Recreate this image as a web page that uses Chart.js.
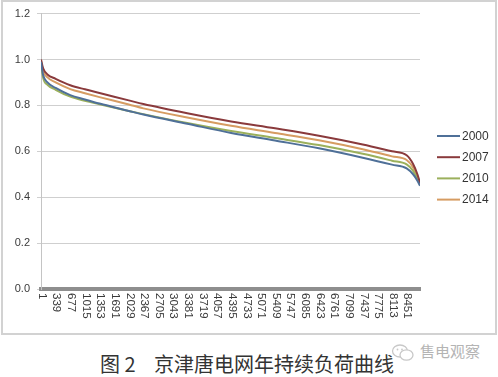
<!DOCTYPE html>
<html>
<head>
<meta charset="utf-8">
<script src="https://cdn.jsdelivr.net/npm/chart.js@4/dist/chart.umd.min.js"></script>
<style>
  html, body { margin: 0; padding: 0; background: #ffffff; }
  body { width: 498px; height: 377px; position: relative; overflow: hidden; }
  #box { position: absolute; left: 1px; top: 0px; width: 496px; height: 335px; box-sizing: border-box; border: 2px solid #d2d2d2; }
  #c { position: absolute; left: 0; top: 0; }
  .cap { position: absolute; top: 352px; font-family: "Noto Sans CJK SC", sans-serif; font-size: 20px; color: #333; line-height: 24px; white-space: nowrap; }
  #wm { position: absolute; left: 420px; top: 342px; font-family: "Noto Sans CJK SC", sans-serif; font-size: 15px; color: #b4b4b4; line-height: 18px; }
  #ico { position: absolute; left: 391px; top: 343px; }
</style>
</head>
<body>
<div id="box"></div>
<canvas id="c" width="498" height="335"></canvas>
<div class="cap" style="left:100px;">图 2</div>
<div class="cap" style="left:154px;">京津唐电网年持续负荷曲线</div>
<svg id="ico" width="24" height="20" viewBox="0 0 24 20">
  <ellipse cx="9" cy="8" rx="7.5" ry="6" fill="none" stroke="#c8c8c8" stroke-width="1.3"/>
  <ellipse cx="15.5" cy="12" rx="6.5" ry="5.2" fill="#fff" stroke="#c8c8c8" stroke-width="1.3"/>
  <circle cx="6.5" cy="6.5" r="0.9" fill="#c8c8c8"/><circle cx="11" cy="6.5" r="0.9" fill="#c8c8c8"/>
</svg>
<div id="wm">售电观察</div>
<script>
// ---- data ----
const hours = [1, 50, 150, 339, 677, 1015, 1353, 2029, 2367, 3381, 4395, 5409, 6423, 7437, 8113, 8451, 8600, 8700, 8760];
const seriesNames = ['2000', '2007', '2010', '2014'];
const load2000 = [0.99, 0.932, 0.900, 0.876, 0.845, 0.826, 0.808, 0.776, 0.760, 0.720, 0.680, 0.647, 0.613, 0.572, 0.542, 0.526, 0.500, 0.472, 0.450];
const load2007 = [1.00, 0.962, 0.935, 0.916, 0.888, 0.870, 0.854, 0.822, 0.806, 0.766, 0.730, 0.700, 0.668, 0.630, 0.600, 0.583, 0.545, 0.500, 0.462];
const load2010 = [0.99, 0.920, 0.890, 0.868, 0.838, 0.820, 0.805, 0.776, 0.762, 0.723, 0.688, 0.658, 0.627, 0.589, 0.559, 0.543, 0.515, 0.482, 0.455];
const load2014 = [0.995, 0.950, 0.922, 0.900, 0.871, 0.853, 0.836, 0.804, 0.787, 0.747, 0.711, 0.680, 0.648, 0.609, 0.578, 0.562, 0.530, 0.490, 0.458];
const xTickLabels = [1, 339, 677, 1015, 1353, 1691, 2029, 2367, 2705, 3043, 3381, 3719, 4057, 4395, 4733, 5071, 5409, 5747, 6085, 6423, 6761, 7099, 7437, 7775, 8113, 8451];
const yTickValues = [0, 0.2, 0.4, 0.6, 0.8, 1.0, 1.2];

const colors = ['#4f7098', '#8a3a3c', '#9bb05c', '#d69c62'];
const seriesData = [load2000, load2007, load2010, load2014];

const datasets = seriesNames.map((name, i) => ({
  label: name,
  data: hours.map((h, k) => ({ x: h, y: seriesData[i][k] })),
  borderColor: colors[i],
  backgroundColor: colors[i],
  borderWidth: 2,
  pointRadius: 0,
  cubicInterpolationMode: 'monotone',
  fill: false
}));

const customPlugin = {
  id: 'custom',
  afterDraw(chart) {
    const ctx = chart.ctx;
    const xs = chart.scales.x;
    ctx.save();
    // rotated x labels (clockwise, reading top to bottom)
    ctx.fillStyle = '#3a3a3a';
    ctx.font = '11.5px "Liberation Sans", Arial, sans-serif';
    ctx.textAlign = 'left';
    ctx.textBaseline = 'middle';
    xTickLabels.forEach(v => {
      const px = xs.getPixelForValue(v);
      ctx.save();
      ctx.translate(px + 1, chart.chartArea.bottom + 4);
      ctx.rotate(Math.PI / 2);
      ctx.fillText(String(v), 0, 0);
      ctx.restore();
    });
    // legend
    ctx.font = '12px "Liberation Sans", Arial, sans-serif';
    ctx.textBaseline = 'middle';
    chart.data.datasets.forEach((ds, i) => {
      const y = 136 + i * 21.2;
      ctx.strokeStyle = ds.borderColor;
      ctx.lineWidth = 2;
      ctx.beginPath();
      ctx.moveTo(437, y);
      ctx.lineTo(460, y);
      ctx.stroke();
      ctx.fillStyle = '#333';
      ctx.fillText(ds.label, 462, y + 0.5);
    });
    ctx.restore();
  }
};

new Chart(document.getElementById('c'), {
  type: 'line',
  data: { datasets },
  options: {
    responsive: false,
    animation: false,
    layout: { padding: { left: 0, right: 78, top: 13, bottom: 0 } },
    plugins: { legend: { display: false }, tooltip: { enabled: false } },
    scales: {
      x: {
        type: 'linear',
        min: 1,
        max: 8760,
        grid: { display: false },
        border: { display: true, color: '#8e8e8e', width: 4 },
        ticks: { display: false },
        afterFit: s => { s.height = 46; }
      },
      y: {
        type: 'linear',
        min: 0,
        max: 1.2,
        afterBuildTicks: s => { s.ticks = yTickValues.map(v => ({ value: v })); },
        ticks: {
          color: '#3a3a3a',
          font: { family: '"Liberation Sans", Arial, sans-serif', size: 11 },
          padding: 7,
          callback: v => Number(v).toFixed(1)
        },
        grid: { color: '#cfcfcf', lineWidth: 1, tickLength: 4, drawTicks: true },
        border: { display: true, color: '#c4c4c4', width: 1 },
        afterFit: s => { s.width = 41; }
      }
    }
  },
  plugins: [customPlugin]
});
</script>
</body>
</html>
